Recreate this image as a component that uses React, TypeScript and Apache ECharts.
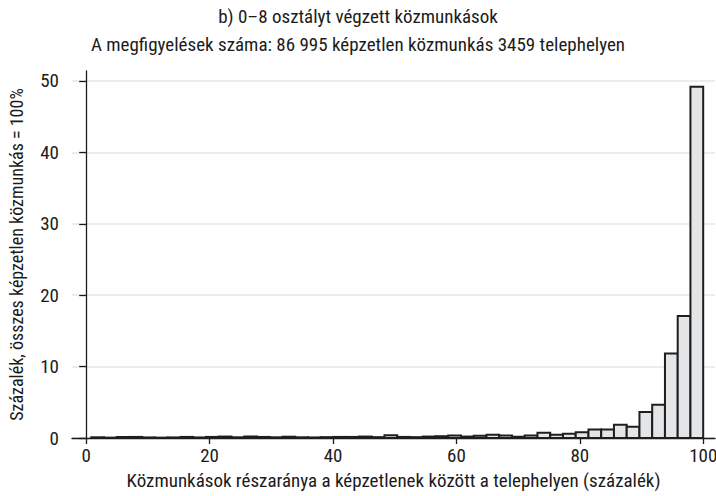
import React, { useEffect, useRef } from "react";
import * as echarts from "echarts";

// Histogram: 48 bins from binMin to 100 (percent of public workers among unskilled at site)
const binMin = 0.82;
const binWidth = 2.066;
const percentages = [
  0.1, 0.05, 0.15, 0.15, 0.08, 0.05, 0.08, 0.15, 0.08, 0.15,
  0.2, 0.1, 0.2, 0.15, 0.1, 0.18, 0.1, 0.08, 0.12, 0.15,
  0.15, 0.2, 0.12, 0.4, 0.15, 0.12, 0.2, 0.25, 0.35, 0.2,
  0.3, 0.45, 0.35, 0.18, 0.35, 0.75, 0.45, 0.6, 0.8, 1.2,
  1.2, 1.85, 1.58, 3.65, 4.65, 11.85, 17.1, 49.2,
];
const xTicks = [0, 20, 40, 60, 80, 100];
const yTicks = [0, 10, 20, 30, 40, 50];

const titleLine1 = "b) 0–8 osztályt végzett közmunkások";
const titleLine2 = "A megfigyelések száma: 86 995 képzetlen közmunkás 3459 telephelyen";
const xName = "Közmunkások részaránya a képzetlenek között a telephelyen (százalék)";
const yName = "Százalék, összes képzetlen közmunkás = 100%";

const FONT = '"Liberation Sans Narrow", "Roboto Condensed", "DejaVu Sans Condensed", sans-serif';
const TEXT = "#1b1b1b";

export default function App() {
  const ref = useRef<HTMLDivElement>(null);
  useEffect(() => {
    if (!ref.current) return;
    const chart = echarts.init(ref.current, null, { renderer: "svg" });
    const data = percentages.map((v, i) => [
      binMin + i * binWidth,
      binMin + (i + 1) * binWidth,
      v,
    ]);
    chart.setOption({
      animation: false,
      backgroundColor: "#ffffff",
      textStyle: { fontFamily: FONT, color: TEXT },
      title: {
        text: titleLine1 + "\n" + titleLine2,
        left: "center",
        top: -3,
        textStyle: {
          fontFamily: FONT,
          fontSize: 19,
          fontWeight: "normal",
          color: TEXT,
          lineHeight: 28,
        },
      },
      grid: {
        left: 72,
        right: 1,
        top: 71,
        bottom: 58,
        containLabel: false,
        outerBoundsMode: "none",
      },
      xAxis: {
        type: "value",
        min: -2.3,
        max: 101.9,
        name: xName,
        nameLocation: "middle",
        nameGap: 33,
        nameTextStyle: { fontFamily: FONT, fontSize: 19, color: TEXT },
        axisLine: { show: true, onZero: false, lineStyle: { color: TEXT, width: 1.3 } },
        axisTick: { show: true, length: 6, customValues: xTicks, lineStyle: { color: TEXT, width: 1.3 } },
        axisLabel: {
          customValues: xTicks,
          fontFamily: FONT,
          fontSize: 19,
          color: TEXT,
          margin: 8,
        },
        splitLine: { show: false },
      },
      yAxis: {
        type: "value",
        min: 0,
        max: 51.4,
        name: yName,
        nameLocation: "middle",
        nameGap: 47,
        nameRotate: 90,
        nameTextStyle: { fontFamily: FONT, fontSize: 18, color: TEXT },
        axisLine: { show: true, lineStyle: { color: TEXT, width: 1.3 } },
        axisTick: { show: true, length: 7, customValues: yTicks, lineStyle: { color: TEXT, width: 1.3 } },
        axisLabel: {
          customValues: yTicks,
          fontFamily: FONT,
          fontSize: 19,
          color: TEXT,
          margin: 13,
        },
        splitLine: { show: true, lineStyle: { color: "#ececec", width: 2 } },
      },
      series: [
        {
          type: "custom",
          data,
          encode: { x: [0, 1], y: 2 },
          renderItem: (params: any, api: any) => {
            const x0 = api.value(0);
            const x1 = api.value(1);
            const v = api.value(2);
            const p0 = api.coord([x0, v]);
            const p1 = api.coord([x1, 0]);
            return {
              type: "rect",
              shape: { x: p0[0], y: p0[1], width: p1[0] - p0[0], height: p1[1] - p0[1] },
              style: { fill: "#e4e5e7", stroke: "#1e1e1e", lineWidth: 2 },
            };
          },
        },
      ],
    });
    return () => chart.dispose();
  }, []);
  return (
    <div
      ref={ref}
      style={{ position: "fixed", left: 0, top: 0, width: 716, height: 496 }}
    />
  );
}
